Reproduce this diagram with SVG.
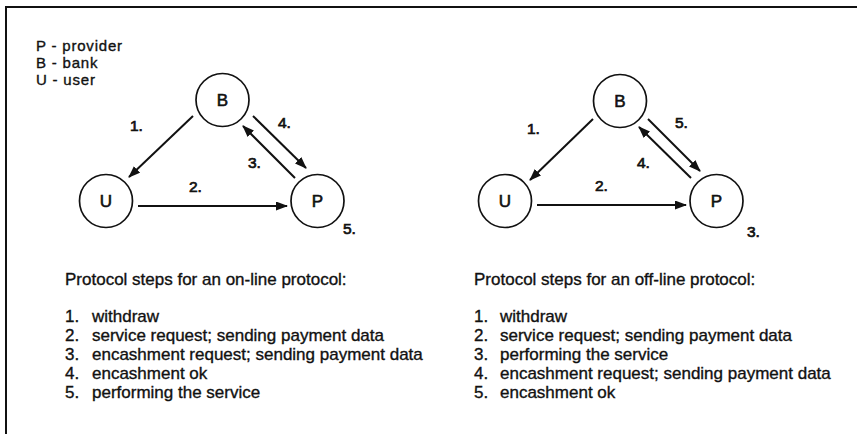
<svg xmlns="http://www.w3.org/2000/svg" width="857" height="434" viewBox="0 0 857 434">
  <style>
    text { font-family: "Liberation Sans", Arial, Helvetica, sans-serif; fill: #111; stroke: #111; stroke-width: 0.35; }
    .legend { font-size: 15px; letter-spacing: 0.8px; }
    .node circle { fill: #fff; stroke: #111; stroke-width: 1.7; }
    .node text { font-size: 17px; text-anchor: middle; stroke-width: 0.6; }
    .step { font-size: 15.5px; }
    .step text { stroke-width: 0.7; }
    .edge { stroke: #111; stroke-width: 2; fill: none; marker-end: url(#arrow); }
    .title { font-size: 17px; }
    .item { font-size: 17px; }
    .frame { stroke: #111; stroke-width: 2; fill: none; }
  </style>
  <defs>
    <marker id="arrow" markerUnits="userSpaceOnUse" markerWidth="12" markerHeight="10" refX="11" refY="4.5" orient="auto">
      <path d="M0,0 L12,4.5 L0,9 z" fill="#111"/>
    </marker>
  </defs>
  <rect width="857" height="434" fill="#fff"/>

  <!-- open frame: top and left edges only -->
  <path class="frame" d="M6,434 L6,7 L857,7"/>

  <!-- legend -->
  <g id="legend" class="legend">
    <text x="36" y="51">P - provider</text>
    <text x="36" y="68">B - bank</text>
    <text x="36" y="85">U - user</text>
  </g>

  <!-- on-line protocol diagram -->
  <g id="online-edges">
    <line class="edge" x1="193" y1="116" x2="129" y2="177"/>
    <line class="edge" x1="138" y1="206" x2="287" y2="206"/>
    <line class="edge" x1="295" y1="178" x2="243" y2="126"/>
    <line class="edge" x1="253" y1="116" x2="306" y2="168"/>
  </g>
  <g id="online-labels" class="step">
    <text x="130" y="131">1.</text>
    <text x="189" y="192">2.</text>
    <text x="248" y="168">3.</text>
    <text x="278" y="128">4.</text>
    <text x="343" y="234">5.</text>
  </g>
  <g id="online-B" class="node">
    <circle cx="222.5" cy="100" r="26.5"/>
    <text x="222.5" y="106">B</text>
  </g>
  <g id="online-U" class="node">
    <circle cx="106" cy="201" r="26.5"/>
    <text x="106" y="207">U</text>
  </g>
  <g id="online-P" class="node">
    <circle cx="317.5" cy="201" r="26.5"/>
    <text x="317.5" y="207">P</text>
  </g>

  <!-- off-line protocol diagram -->
  <g id="offline-edges">
    <line class="edge" x1="593" y1="119" x2="530" y2="180"/>
    <line class="edge" x1="537" y1="205" x2="686" y2="205"/>
    <line class="edge" x1="691" y1="178" x2="639" y2="127"/>
    <line class="edge" x1="648" y1="119" x2="700" y2="171"/>
  </g>
  <g id="offline-labels" class="step">
    <text x="527" y="134">1.</text>
    <text x="595" y="191">2.</text>
    <text x="747" y="237">3.</text>
    <text x="637" y="168">4.</text>
    <text x="675" y="128">5.</text>
  </g>
  <g id="offline-B" class="node">
    <circle cx="620" cy="101" r="26.5"/>
    <text x="620" y="107">B</text>
  </g>
  <g id="offline-U" class="node">
    <circle cx="505" cy="201" r="26.5"/>
    <text x="505" y="207">U</text>
  </g>
  <g id="offline-P" class="node">
    <circle cx="716.5" cy="201" r="26.5"/>
    <text x="716.5" y="207">P</text>
  </g>

  <!-- step lists -->
  <g id="online-steps">
    <text class="title" x="65" y="285">Protocol steps for an on-line protocol:</text>
    <g class="item">
      <text x="65" y="322">1.</text><text x="92" y="322">withdraw</text>
      <text x="65" y="341">2.</text><text x="92" y="341">service request; sending payment data</text>
      <text x="65" y="360">3.</text><text x="92" y="360">encashment request; sending payment data</text>
      <text x="65" y="379">4.</text><text x="92" y="379">encashment ok</text>
      <text x="65" y="398">5.</text><text x="92" y="398">performing the service</text>
    </g>
  </g>
  <g id="offline-steps">
    <text class="title" x="474" y="285">Protocol steps for an off-line protocol:</text>
    <g class="item">
      <text x="474" y="322">1.</text><text x="500" y="322">withdraw</text>
      <text x="474" y="341">2.</text><text x="500" y="341">service request; sending payment data</text>
      <text x="474" y="360">3.</text><text x="500" y="360">performing the service</text>
      <text x="474" y="379">4.</text><text x="500" y="379">encashment request; sending payment data</text>
      <text x="474" y="398">5.</text><text x="500" y="398">encashment ok</text>
    </g>
  </g>
</svg>
